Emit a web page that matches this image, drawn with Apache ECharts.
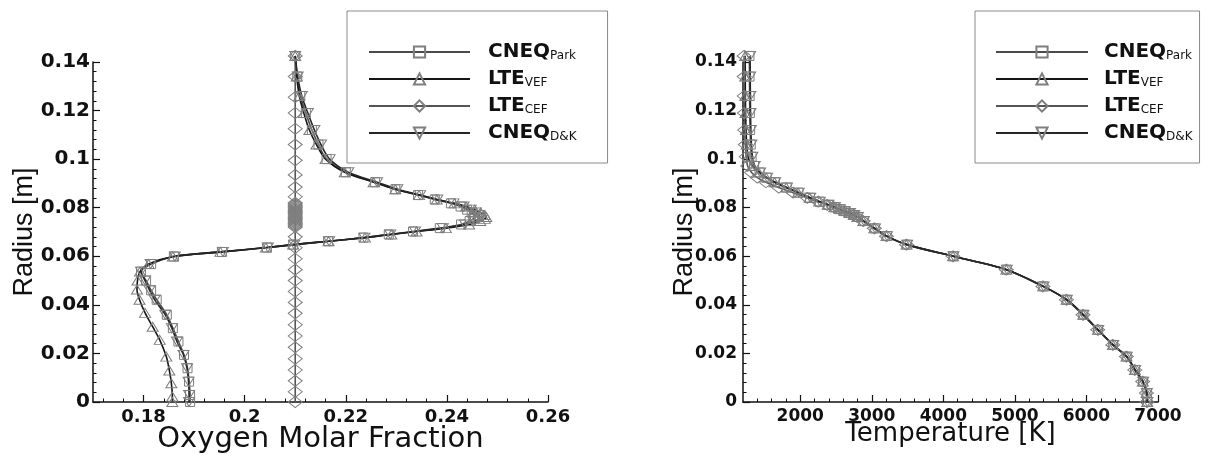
<!DOCTYPE html>
<html><head><meta charset="utf-8">
<script src="https://cdn.jsdelivr.net/npm/echarts@6/dist/echarts.min.js"></script>
<style>html,body{margin:0;padding:0;background:#fff}#c{width:1206px;height:454px}</style>
</head><body><div id="c"></div><script>
// ---------- data ----------
const NAMES = ['CNEQ_Park', 'LTE_VEF', 'LTE_CEF', 'CNEQ_D&K'];

// Left: oxygen molar fraction vs radius
const R_O2 = [0.1425, 0.134, 0.126, 0.119, 0.112, 0.106, 0.1, 0.0946, 0.0905, 0.0876, 0.0852, 0.0834, 0.0818, 0.0805, 0.0792, 0.078, 0.077, 0.0762, 0.0754, 0.0745, 0.0731, 0.0716, 0.0702, 0.069, 0.0677, 0.0662, 0.0648, 0.0636, 0.0618, 0.0599, 0.0568, 0.0537, 0.05, 0.046, 0.0421, 0.0359, 0.0304, 0.0249, 0.0194, 0.0139, 0.0084, 0.0029, 0];
const X_O2_PARK = [0.21, 0.2104, 0.211, 0.2121, 0.2133, 0.2146, 0.2162, 0.22, 0.2258, 0.2298, 0.2343, 0.2376, 0.2408, 0.2427, 0.244, 0.2449, 0.2454, 0.2455, 0.2452, 0.2445, 0.2428, 0.2386, 0.2333, 0.2285, 0.2235, 0.2165, 0.2096, 0.2044, 0.1955, 0.186, 0.1815, 0.1795, 0.1805, 0.1815, 0.1826, 0.1846, 0.1858, 0.1869, 0.188, 0.1887, 0.189, 0.1892, 0.1892];
const X_O2_DK = [0.21, 0.2105, 0.2113, 0.2125, 0.2138, 0.2151, 0.2168, 0.2205, 0.2262, 0.2302, 0.2347, 0.2381, 0.2413, 0.2433, 0.2447, 0.2457, 0.2463, 0.2465, 0.2462, 0.2455, 0.2436, 0.2392, 0.2337, 0.2288, 0.2237, 0.2167, 0.2098, 0.2046, 0.1957, 0.1862, 0.1814, 0.1795, 0.1803, 0.1812, 0.1822, 0.1843, 0.1856, 0.1866, 0.1879, 0.1886, 0.1889, 0.189, 0.189];
const R_O2_VEF = [0.1425, 0.134, 0.126, 0.119, 0.112, 0.106, 0.1, 0.0946, 0.0905, 0.0876, 0.0852, 0.0834, 0.0818, 0.0805, 0.0792, 0.078, 0.077, 0.0762, 0.0754, 0.0745, 0.0731, 0.0716, 0.0702, 0.069, 0.0677, 0.0662, 0.0648, 0.0636, 0.0618, 0.0599, 0.0568, 0.0537, 0.05, 0.0463, 0.0421, 0.0367, 0.031, 0.0256, 0.0187, 0.013, 0.0077, 0.0022, 0];
const X_O2_VEF = [0.21, 0.2103, 0.2108, 0.2117, 0.2128, 0.2142, 0.216, 0.2198, 0.2255, 0.2298, 0.2345, 0.238, 0.2415, 0.2438, 0.2455, 0.2467, 0.2475, 0.2478, 0.2475, 0.2466, 0.2444, 0.2398, 0.234, 0.229, 0.2238, 0.2166, 0.2096, 0.2042, 0.1952, 0.1858, 0.181, 0.1793, 0.1788, 0.1787, 0.1792, 0.1803, 0.1818, 0.1832, 0.1845, 0.1851, 0.1855, 0.1857, 0.1857];
const R_O2_CEF = [0, 0.0042, 0.0087, 0.0132, 0.0178, 0.0225, 0.0272, 0.0318, 0.0365, 0.041, 0.0455, 0.05, 0.0545, 0.059, 0.0635, 0.068, 0.072, 0.0725, 0.073, 0.0735, 0.074, 0.0745, 0.075, 0.0755, 0.076, 0.0765, 0.077, 0.0775, 0.078, 0.0785, 0.079, 0.0795, 0.08, 0.0805, 0.081, 0.0815, 0.082, 0.0845, 0.0885, 0.0935, 0.0995, 0.106, 0.1125, 0.119, 0.1255, 0.134, 0.1425];
const X_O2_CEF = [0.21, 0.21, 0.21, 0.21, 0.21, 0.21, 0.21, 0.21, 0.21, 0.21, 0.21, 0.21, 0.21, 0.21, 0.21, 0.21, 0.21, 0.21, 0.21, 0.21, 0.21, 0.21, 0.21, 0.21, 0.21, 0.21, 0.21, 0.21, 0.21, 0.21, 0.21, 0.21, 0.21, 0.21, 0.21, 0.21, 0.21, 0.21, 0.21, 0.21, 0.21, 0.21, 0.21, 0.21, 0.21, 0.21, 0.21];

// Right: temperature vs radius
const R_T = [0.1425, 0.134, 0.126, 0.119, 0.112, 0.106, 0.101, 0.0972, 0.0945, 0.0924, 0.0905, 0.0883, 0.0862, 0.0841, 0.0825, 0.0812, 0.0802, 0.0794, 0.0786, 0.0778, 0.077, 0.0762, 0.0745, 0.0715, 0.0683, 0.0648, 0.06, 0.0545, 0.0476, 0.0421, 0.0359, 0.0297, 0.0235, 0.0187, 0.0132, 0.0084, 0.0037, 0];
const T_PARK = [1290, 1291, 1293, 1295, 1300, 1308, 1320, 1355, 1432, 1531, 1645, 1811, 1975, 2136, 2270, 2390, 2480, 2550, 2620, 2690, 2750, 2800, 2885, 3040, 3208, 3490, 4139, 4885, 5397, 5724, 5956, 6162, 6372, 6562, 6679, 6790, 6842, 6850];
const T_VEF = [1230, 1231, 1233, 1236, 1242, 1252, 1270, 1330, 1420, 1525, 1640, 1805, 1970, 2130, 2265, 2385, 2475, 2548, 2618, 2688, 2748, 2798, 2882, 3035, 3205, 3485, 4135, 4880, 5395, 5722, 5955, 6160, 6370, 6560, 6677, 6788, 6840, 6848];
const T_CEF = [1215, 1216, 1218, 1220, 1224, 1232, 1245, 1265, 1320, 1400, 1520, 1700, 1900, 2100, 2250, 2375, 2470, 2545, 2615, 2685, 2745, 2795, 2880, 3035, 3205, 3485, 4135, 4880, 5392, 5720, 5952, 6158, 6368, 6558, 6675, 6786, 6838, 6846];
const T_DK = [1300, 1301, 1303, 1305, 1310, 1318, 1332, 1365, 1440, 1538, 1650, 1815, 1980, 2140, 2275, 2395, 2485, 2555, 2625, 2695, 2755, 2805, 2890, 3045, 3212, 3495, 4142, 4888, 5400, 5727, 5958, 6165, 6375, 6565, 6682, 6793, 6845, 6852];

// Tick labels / tick positions
const LEFT_X_LABELS = [0.18, 0.2, 0.22, 0.24, 0.26];
const LEFT_X_MINOR = [0.172, 0.176, 0.184, 0.188, 0.192, 0.196, 0.204, 0.208, 0.212, 0.216, 0.224, 0.228, 0.232, 0.236, 0.244, 0.248, 0.252, 0.256];
const RIGHT_X_LABELS = [2000, 3000, 4000, 5000, 6000, 7000];
const RIGHT_X_MINOR = [1400, 1600, 1800, 2200, 2400, 2600, 2800, 3200, 3400, 3600, 3800, 4200, 4400, 4600, 4800, 5200, 5400, 5600, 5800, 6200, 6400, 6600, 6800];

// ---------- styling ----------
const INK = '#111';
const STYLE = {
  'CNEQ_Park': { symbol: 'rect', size: 9, rot: 0, color: '#4a4a4a' },
  'LTE_VEF':   { symbol: 'triangle', size: [11, 9], rot: 0, color: '#151515' },
  'LTE_CEF':   { symbol: 'diamond', size: [14, 11], rot: 0, color: '#555' },
  'CNEQ_D&K':  { symbol: 'triangle', size: [11, 9], rot: 180, color: '#262626' }
};
function pairs(xs, rs) { return xs.map((x, i) => [x, rs[i]]); }
function mkSeries(name, data, xi, yi) {
  const s = STYLE[name];
  return {
    name, type: 'line', data, xAxisIndex: xi, yAxisIndex: yi,
    smooth: 0.3, clip: false, symbol: s.symbol, symbolSize: s.size, symbolRotate: s.rot,
    lineStyle: { color: s.color, width: 1.6 },
    itemStyle: { color: 'rgba(255,255,255,0)', borderColor: '#7e7e7e', borderWidth: 1 },
    emphasis: { disabled: true }, silent: true
  };
}
const tickFont = (sz) => ({ fontFamily: 'DejaVu Sans', fontWeight: 'bold', fontSize: sz, color: INK });
function mainX(grid, min, max, labels, fs, name, nfs, ngap) {
  return {
    type: 'value', gridIndex: grid, min, max, position: 'bottom',
    axisLine: { onZero: false, lineStyle: { color: INK, width: 1.5 } },
    axisTick: { show: true, inside: true, length: 7, customValues: labels, lineStyle: { color: INK, width: 1.2 } },
    axisLabel: Object.assign({ customValues: labels, margin: 6, formatter: (v) => String(v) }, tickFont(fs)),
    splitLine: { show: false },
    name, nameLocation: 'middle', nameGap: ngap, nameMoveOverlap: false,
    nameTextStyle: { fontFamily: 'DejaVu Sans', fontSize: nfs, color: INK }
  };
}
function minorX(grid, min, max, vals) {
  return {
    type: 'value', gridIndex: grid, min, max, position: 'bottom',
    axisLine: { show: false },
    axisTick: { show: true, inside: true, length: 3.5, customValues: vals, lineStyle: { color: INK, width: 1 } },
    axisLabel: { show: false }, splitLine: { show: false }
  };
}
function yAx(grid, fs, margin, ngap) {
  return {
    type: 'value', gridIndex: grid, min: 0, max: 0.14, interval: 0.02,
    axisLine: { onZero: false, lineStyle: { color: INK, width: 1.5 } },
    axisTick: { show: true, inside: true, length: 7, lineStyle: { color: INK, width: 1.2 } },
    minorTick: { show: true, splitNumber: 5, length: 3.5, lineStyle: { color: INK, width: 1 } },
    axisLabel: Object.assign({ margin }, tickFont(fs)),
    splitLine: { show: false }, minorSplitLine: { show: false },
    name: 'Radius [m]', nameLocation: 'middle', nameGap: ngap, nameMoveOverlap: false,
    nameTextStyle: { fontFamily: 'Liberation Sans', fontSize: 27, color: INK }
  };
}
function legendCfg(left, itemWidth, padLeftText, pad) {
  return {
    orient: 'vertical', left, top: 11, data: NAMES, selectedMode: false,
    itemWidth, itemHeight: 14, itemGap: 7, padding: pad,
    borderColor: '#8a8a8a', borderWidth: 1, backgroundColor: 'rgba(0,0,0,0)',
    formatter: (n) => { const p = n.split('_'); return '{m|' + p[0] + '}{s|' + p[1] + '}'; },
    textStyle: {
      rich: {
        m: { fontFamily: 'DejaVu Sans', fontWeight: 'bold', fontSize: 20, lineHeight: 20, color: INK, padding: [0, 0, 0, padLeftText] },
        s: { fontFamily: 'DejaVu Sans', fontSize: 12, lineHeight: 4, verticalAlign: 'bottom', color: INK }
      }
    }
  };
}

const option = {
  animation: false,
  backgroundColor: '#fff',
  grid: [
    { left: 93, top: 62, width: 455, height: 340, containLabel: false, outerBoundsMode: 'none' },
    { left: 743, top: 62, width: 415, height: 340, containLabel: false, outerBoundsMode: 'none' }
  ],
  xAxis: [
    mainX(0, 0.17, 0.26, LEFT_X_LABELS, 18, 'Oxygen Molar Fraction', 29, 23),
    minorX(0, 0.17, 0.26, LEFT_X_MINOR),
    mainX(1, 1200, 7000, RIGHT_X_LABELS, 17, 'Temperature [K]', 26, 19),
    minorX(1, 1200, 7000, RIGHT_X_MINOR)
  ],
  yAxis: [ yAx(0, 20, 3, 55), yAx(1, 17, 6, 45) ],
  legend: [
    legendCfg(347, 101, 13, [31, 31, 20, 21]),
    legendCfg(975, 92, 11, [31, 7, 20, 20])
  ],
  series: [
    mkSeries('CNEQ_Park', pairs(X_O2_PARK, R_O2), 0, 0),
    mkSeries('LTE_VEF', pairs(X_O2_VEF, R_O2_VEF), 0, 0),
    mkSeries('LTE_CEF', pairs(X_O2_CEF, R_O2_CEF), 0, 0),
    mkSeries('CNEQ_D&K', pairs(X_O2_DK, R_O2), 0, 0),
    mkSeries('CNEQ_Park', pairs(T_PARK, R_T), 2, 1),
    mkSeries('LTE_VEF', pairs(T_VEF, R_T), 2, 1),
    mkSeries('LTE_CEF', pairs(T_CEF, R_T), 2, 1),
    mkSeries('CNEQ_D&K', pairs(T_DK, R_T), 2, 1)
  ]
};
const chart = echarts.init(document.getElementById('c'), null, { renderer: 'canvas' });
chart.setOption(option);
</script></body></html>
